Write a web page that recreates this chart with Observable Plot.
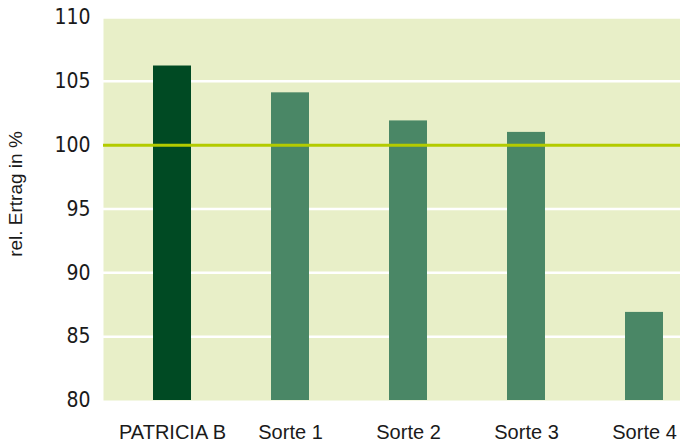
<!DOCTYPE html>
<html>
<head>
<meta charset="utf-8">
<script src="https://cdn.jsdelivr.net/npm/d3@7"></script>
<script src="https://cdn.jsdelivr.net/npm/@observablehq/plot@0.6"></script>
<style>
  html, body { margin: 0; padding: 0; background: #fff; }
  #chart svg { display: block; }
</style>
</head>
<body>
<div id="chart"></div>
<script>
const categories = ["PATRICIA B", "Sorte 1", "Sorte 2", "Sorte 3", "Sorte 4"];
const values = [106.2, 104.1, 101.9, 101.0, 86.9];
const yTicks = [80, 85, 90, 95, 100, 105, 110];
const referenceValue = 100;
const axisLabel = "rel. Ertrag in %";

const data = categories.map((c, i) => ({category: c, value: values[i]}));
const gridTicks = yTicks.filter(t => t !== referenceValue && t !== yTicks[0]);

const bg = "#e8efc8";
const dark = "#004a23";
const mid = "#4a8766";
const refColor = "#b3cb00";
const narrow = "'Liberation Sans Narrow', 'DejaVu Sans Condensed', 'Liberation Sans', sans-serif";
const regular = "'Liberation Sans', Arial, sans-serif";

const chart = Plot.plot({
  width: 680,
  height: 444,
  marginLeft: 103,
  marginRight: 0,
  marginTop: 17,
  marginBottom: 44,
  style: {fontFamily: regular, color: "#1a1a1a", background: "#fff"},
  x: {type: "band", domain: categories, range: [113, 703], paddingInner: 0.678, paddingOuter: 0.339},
  y: {domain: [80, 110], ticks: yTicks},
  marks: [
    Plot.frame({fill: bg, stroke: null}),
    Plot.ruleY(gridTicks, {stroke: "#fff", strokeWidth: 2.5}),
    Plot.barY(data, {x: "category", y1: yTicks[0], y2: "value", fill: d => d.category === categories[0] ? dark : mid}),
    Plot.ruleY([referenceValue], {stroke: refColor, strokeWidth: 3}),
    Plot.axisY(yTicks, {tickSize: 0, tickPadding: 13, label: null, fontSize: 21, fontFamily: narrow, fill: "#1a1a1a"}),
    Plot.axisX({tickSize: 0, tickPadding: 24, label: null, fontSize: 20, fontFamily: regular, fill: "#1a1a1a"}),
    Plot.text([axisLabel], {frameAnchor: "left", textAnchor: "middle", dx: -88, dy: -15, rotate: -90, fontSize: 19, fontFamily: regular, fill: "#1a1a1a"})
  ]
});
document.getElementById("chart").appendChild(chart);
</script>
</body>
</html>
